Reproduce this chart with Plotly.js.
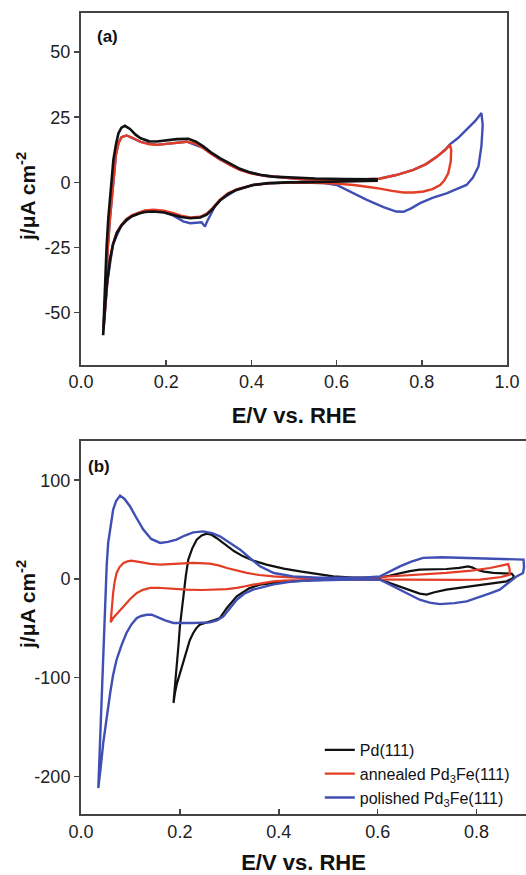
<!DOCTYPE html>
<html>
<head>
<meta charset="utf-8">
<script src="https://cdn.plot.ly/plotly-3.0.1.min.js"></script>
<style>html,body{margin:0;padding:0;background:#fff;}#chart{width:526px;height:875px;}</style>
</head>
<body>
<div id="chart"></div>
<script>
// ---------- Panel (a) ----------
const pdA_E = [0.052,0.056,0.060,0.064,0.068,0.072,0.076,0.082,0.088,0.095,0.103,0.115,0.128,0.140,0.160,0.178,0.200,0.225,0.252,0.270,0.287,0.305,0.326,0.350,0.373,0.395,0.420,0.450,0.483,0.55,0.62,0.694,
  0.694,0.65,0.60,0.54,0.483,0.44,0.404,0.385,0.365,0.345,0.326,0.307,0.295,0.280,0.256,0.235,0.217,0.195,0.170,0.150,0.138,0.120,0.107,0.095,0.084,0.075,0.068,0.060,0.056,0.052];
const pdA_j = [-58.7,-40,-25,-14,-6.7,1.5,8.6,14.5,18.9,21,21.7,20.5,18.3,16.9,15.8,15.7,16.1,16.6,16.7,15.6,13.8,11.5,9.3,7.1,5.2,3.9,2.9,2.2,1.9,1.5,1.3,1.2,
  0.6,0.4,0.3,0.1,0,-0.3,-1.0,-1.8,-2.9,-4.5,-7.0,-10.6,-12.4,-13.5,-13.8,-13.3,-12.5,-11.6,-11.2,-11.4,-11.9,-13,-14.4,-16.6,-19.5,-24,-29.8,-40,-49,-58.7];

const annA_E = [0.053,0.058,0.063,0.068,0.073,0.077,0.082,0.088,0.095,0.107,0.120,0.140,0.160,0.178,0.200,0.225,0.248,0.270,0.287,0.305,0.326,0.350,0.373,0.40,0.43,0.47,0.52,0.58,0.64,0.70,0.74,0.78,0.81,0.835,0.855,0.866,
  0.869,0.868,0.862,0.853,0.843,0.825,0.804,0.78,0.757,0.73,0.702,0.671,0.64,0.60,0.55,0.483,0.44,0.404,0.365,0.345,0.326,0.307,0.295,0.28,0.256,0.235,0.217,0.195,0.170,0.150,0.138,0.12,0.107,0.095,0.084,0.075,0.068,0.062,0.057,0.053];
const annA_j = [-56,-40,-25,-14,-5,3,10.5,15,17.3,18,17.2,15.5,14.6,14.4,14.8,15.4,15.6,14.8,13.2,11,8.8,6.6,4.8,3.4,2.5,1.8,1.2,0.9,1.0,1.4,2.8,4.8,7,9.8,12.5,14.4,
  12.5,8,3.5,0.8,-1.0,-2.6,-3.5,-3.9,-3.9,-3.3,-2.4,-1.7,-1.0,-0.5,-0.2,-0.1,-0.4,-1.0,-2.7,-4.2,-6.6,-10.2,-12.0,-13.2,-13.5,-12.8,-11.8,-10.9,-10.5,-10.8,-11.4,-12.6,-14,-16.3,-19.2,-23.6,-29.4,-38,-48,-56];

const polA_E = [0.053,0.058,0.063,0.068,0.073,0.077,0.082,0.088,0.095,0.107,0.140,0.178,0.225,0.248,0.287,0.326,0.373,0.43,0.52,0.58,0.64,0.70,0.74,0.78,0.81,0.835,0.855,0.866,0.885,0.905,0.925,0.940,
  0.943,0.940,0.933,0.920,0.905,0.880,0.858,0.825,0.796,0.775,0.757,0.740,0.71,0.671,0.635,0.60,0.57,0.50,0.44,0.404,0.365,0.33,0.315,0.303,0.296,0.291,0.283,0.270,0.256,0.240,0.217,0.195,0.170,0.150,0.120,0.095,0.075,0.062,0.053];
const polA_j = [-56,-40,-25,-14,-5,3,10.5,15,17.3,18,15.5,14.4,15.4,15.6,13.2,8.8,4.8,2.5,1.2,0.9,1.0,1.4,2.8,4.8,7,9.8,12.5,14.6,17,20.2,23.5,26.6,
  22,14,6.1,1.8,-1.0,-2.7,-4.2,-6,-8,-10,-11.3,-11.2,-9.5,-6.7,-3.8,-1.0,-0.3,-0.1,-0.4,-1.0,-2.8,-6.5,-9,-12.5,-15,-17,-15.3,-15.5,-15.7,-15,-12.8,-11.4,-10.8,-11,-12.8,-16.4,-23.8,-38,-56];

// ---------- Panel (b) ----------
const pdB_E = [0.187,0.190,0.193,0.197,0.200,0.204,0.207,0.212,0.217,0.225,0.234,0.244,0.254,0.264,0.274,0.285,0.295,0.31,0.328,0.35,0.375,0.41,0.443,0.48,0.51,0.55,0.58,0.605,0.625,0.645,0.665,0.685,0.71,0.739,0.765,0.783,0.792,0.80,0.815,0.834,0.855,0.871,
  0.875,0.874,0.861,0.835,0.807,0.775,0.739,0.715,0.699,0.685,0.672,0.652,0.632,0.605,0.55,0.50,0.47,0.43,0.40,0.362,0.34,0.315,0.305,0.295,0.287,0.281,0.270,0.261,0.250,0.240,0.233,0.227,0.220,0.214,0.207,0.200,0.194,0.190,0.187];
const pdB_j = [-125.6,-110,-88.6,-68,-48,-30,-14.2,3,19.6,31,39.8,44,45.9,44.8,41.5,37.5,33,28,22.9,18.3,14.5,10.5,7.7,4.8,2.6,1.5,1.2,1.5,3.5,6.1,8,9.4,9.8,10.1,11.3,12.8,11.5,9.4,7.5,6.1,5.6,5.4,
  3,1.0,-2.4,-4.2,-5.8,-8.2,-10.8,-13.5,-15.9,-14.8,-12.6,-9.4,-5.8,-0.7,-0.3,-0.6,-1.2,-2.4,-3.5,-5.8,-9.5,-17.6,-23,-29.4,-35,-39.5,-41.5,-43,-44.5,-46.3,-50,-54.7,-62,-71.6,-83,-95.2,-106,-115.5,-125.6];

const annB_E = [0.060,0.062,0.065,0.068,0.072,0.078,0.086,0.094,0.102,0.120,0.140,0.160,0.190,0.227,0.261,0.280,0.295,0.315,0.335,0.36,0.389,0.443,0.50,0.55,0.605,0.67,0.739,0.79,0.827,0.850,0.864,
  0.867,0.867,0.85,0.807,0.76,0.706,0.65,0.605,0.55,0.50,0.443,0.41,0.389,0.365,0.348,0.330,0.315,0.295,0.274,0.245,0.213,0.190,0.173,0.155,0.140,0.125,0.113,0.100,0.086,0.075,0.065,0.060];
const annB_j = [-44,-30,-14.2,-3,6.1,12,16.2,17.8,18.5,17,15.2,14.5,15.5,16.2,15.5,13.5,11.1,8.5,6.1,4,2.6,1,0.5,0.6,2,4,6.1,8.5,11.1,13.5,15.2,
  10,4.4,2,-0.7,-1,-0.7,-0.6,-0.5,-0.4,-0.4,-0.7,-1.6,-2.4,-4,-5.8,-7.6,-9.1,-10.3,-10.8,-11.2,-10.8,-9.8,-9.1,-8.9,-9.1,-11,-14.2,-20,-27.8,-34,-39.5,-44];

const polB_E = [0.035,0.038,0.042,0.045,0.049,0.052,0.055,0.060,0.065,0.071,0.079,0.088,0.099,0.112,0.126,0.142,0.160,0.176,0.193,0.210,0.227,0.247,0.265,0.281,0.300,0.322,0.342,0.362,0.39,0.429,0.48,0.53,0.57,0.605,0.625,0.645,0.668,0.692,0.73,0.773,0.82,0.86,0.895,
  0.896,0.894,0.881,0.865,0.847,0.827,0.80,0.78,0.755,0.726,0.705,0.685,0.665,0.645,0.625,0.605,0.55,0.50,0.46,0.429,0.39,0.348,0.330,0.315,0.300,0.288,0.275,0.261,0.227,0.187,0.170,0.153,0.143,0.133,0.122,0.113,0.102,0.092,0.082,0.072,0.065,0.059,0.052,0.045,0.040,0.035];
const polB_j = [-211.8,-170,-115.5,-65,-14,14,36.5,56,70,79,84.4,81,73.6,62,50,40.5,36.5,37.5,39.8,44,47.2,48.2,46.5,43.2,37,29.7,21,12.8,6,2.6,1.2,0.8,1.2,2.6,7.5,12.8,17.5,21.3,22,21.3,20.8,20.2,19.6,
  12,6,2.6,-3.5,-10.8,-14.5,-19,-22.7,-24.5,-25.5,-24,-21,-16,-10.8,-5.5,-0.7,-0.5,-0.8,-1.5,-2.4,-5.5,-10.8,-15,-21,-30,-37.9,-42,-44,-44.6,-44.6,-42,-37.9,-36.2,-36.2,-37.5,-39.5,-46,-54.7,-67,-81.8,-97,-115.5,-140,-166,-190,-211.8];

const seriesNames = ['Pd(111)', 'annealed Pd<sub>3</sub>Fe(111)', 'polished Pd<sub>3</sub>Fe(111)'];
const xTicksA = [0, 0.2, 0.4, 0.6, 0.8, 1.0];
const xTicksB = [0, 0.2, 0.4, 0.6, 0.8];
const yTicksA = [-50, -25, 0, 25, 50];
const yTicksB = [-200, -100, 0, 100];

const BLACK = '#111111', RED = '#e43d26', BLUE = '#3f4fb3';
const FONT = 'Liberation Sans, Arial, sans-serif';

const traces = [
  {x: polA_E, y: polA_j, xaxis:'x', yaxis:'y', mode:'lines', line:{color:BLUE, width:2.4}, showlegend:false, name:seriesNames[2]},
  {x: annA_E, y: annA_j, xaxis:'x', yaxis:'y', mode:'lines', line:{color:RED, width:2.4}, showlegend:false, name:seriesNames[1]},
  {x: pdA_E, y: pdA_j, xaxis:'x', yaxis:'y', mode:'lines', line:{color:BLACK, width:2.6}, showlegend:false, name:seriesNames[0]},
  {x: pdB_E, y: pdB_j, xaxis:'x2', yaxis:'y2', mode:'lines', line:{color:BLACK, width:2.2}, name:seriesNames[0]},
  {x: annB_E, y: annB_j, xaxis:'x2', yaxis:'y2', mode:'lines', line:{color:RED, width:2.2}, name:seriesNames[1]},
  {x: polB_E, y: polB_j, xaxis:'x2', yaxis:'y2', mode:'lines', line:{color:BLUE, width:2.4}, name:seriesNames[2]}
];

const axisCommon = {
  showline:true, linecolor:'#444', linewidth:2, showgrid:false, zeroline:false,
  ticks:'outside', ticklen:5, tickwidth:1.5, tickcolor:'#444',
  tickfont:{family:FONT, size:18, color:'#222'}
};

const layout = {
  width:526, height:875,
  margin:{l:0, r:0, t:0, b:0},
  paper_bgcolor:'#ffffff', plot_bgcolor:'#ffffff',
  font:{family:FONT, color:'#111'},
  xaxis: Object.assign({}, axisCommon, {
    domain:[81/526, 507/526], anchor:'y', range:[0,1], tickvals:xTicksA, ticktext:xTicksA.map(v=>v.toFixed(1)),
    mirror:true, ticks:'inside',
    title:{text:'<b>E/V vs. RHE</b>', font:{family:FONT, size:22, color:'#111'}, standoff:16}
  }),
  yaxis: Object.assign({}, axisCommon, {
    domain:[1-364.7/875, 1-13/875], anchor:'x', range:[-70,65], tickvals:yTicksA, ticktext:yTicksA.map(String), mirror:true
  }),
  xaxis2: Object.assign({}, axisCommon, {
    domain:[81/526, 1], anchor:'y2', range:[0,0.9], tickvals:xTicksB, ticktext:xTicksB.map(v=>v.toFixed(1)),
    mirror:true, ticks:'inside',
    title:{text:'<b>E/V vs. RHE</b>', font:{family:FONT, size:22, color:'#111'}, standoff:16}
  }),
  yaxis2: Object.assign({}, axisCommon, {
    domain:[1-814/875, 1-440.7/875], anchor:'x2', range:[-238,140], tickvals:yTicksB, ticktext:yTicksB.map(String)
  }),
  legend:{x:0.608, y:1-733/875, xanchor:'left', yanchor:'top', bgcolor:'rgba(0,0,0,0)',
    font:{family:FONT, size:16, color:'#111'}, tracegroupgap:0},
  annotations:[
    {text:'<b>j/μA cm<sup>-2</sup></b>', xref:'paper', yref:'paper', x:26/526, y:1-197/875, textangle:-90, showarrow:false,
     font:{family:FONT, size:21, color:'#111'}, xanchor:'center', yanchor:'middle'},
    {text:'<b>j/μA cm<sup>-2</sup></b>', xref:'paper', yref:'paper', x:26/526, y:1-605/875, textangle:-90, showarrow:false,
     font:{family:FONT, size:21, color:'#111'}, xanchor:'center', yanchor:'middle'},
    {text:'<b>(a)</b>', xref:'paper', yref:'paper', x:107/526, y:1-37/875, showarrow:false,
     font:{family:FONT, size:17, color:'#111'}, xanchor:'center', yanchor:'middle'},
    {text:'<b>(b)</b>', xref:'paper', yref:'paper', x:99/526, y:1-466/875, showarrow:false,
     font:{family:FONT, size:17, color:'#111'}, xanchor:'center', yanchor:'middle'}
  ]
};

Plotly.newPlot('chart', traces, layout, {displayModeBar:false, staticPlot:true});
</script>
</body>
</html>
